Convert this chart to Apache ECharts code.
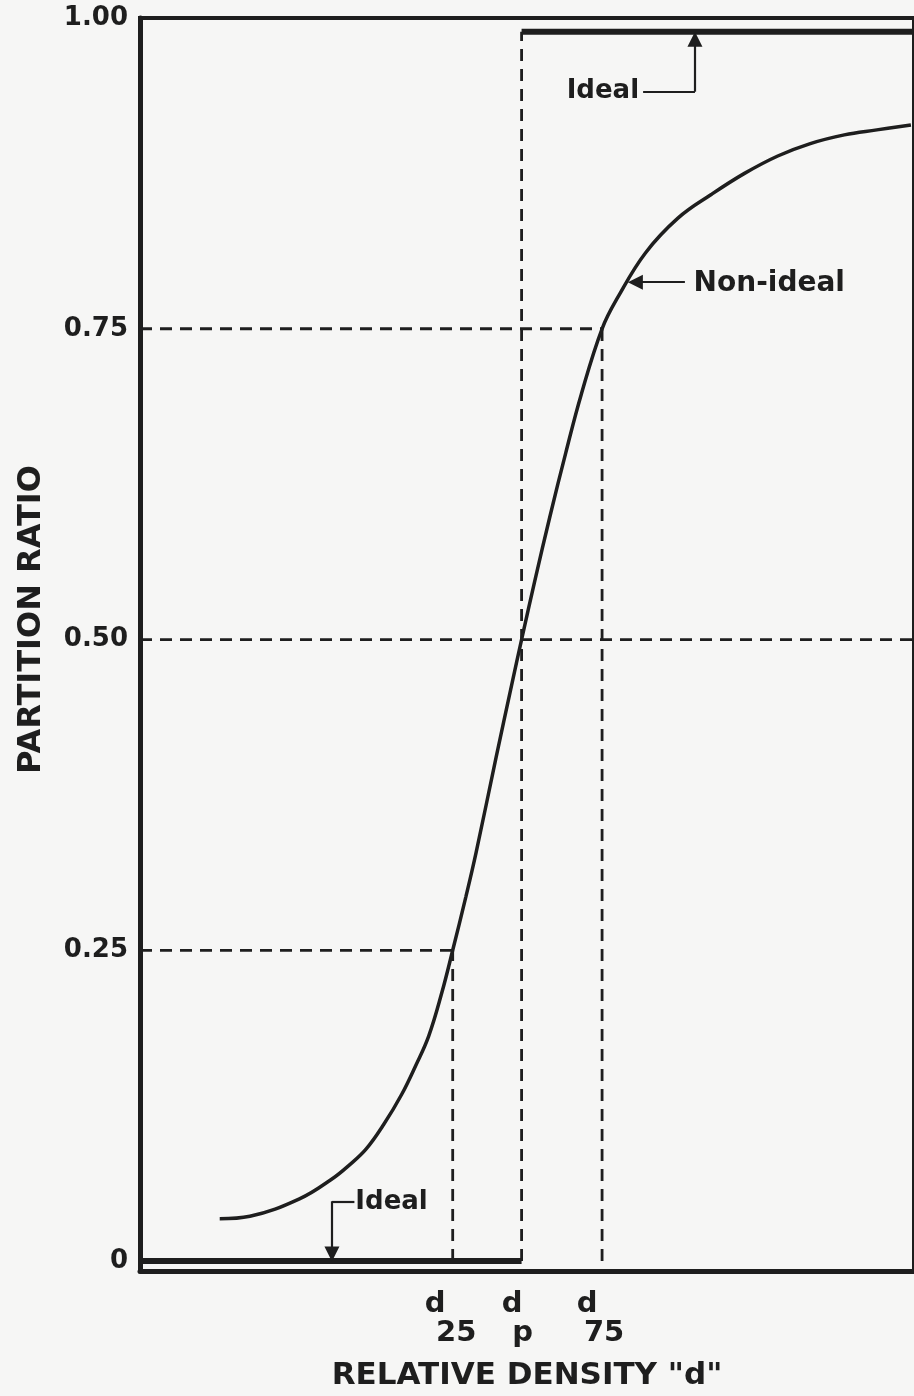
<!DOCTYPE html>
<html>
<head>
<meta charset="utf-8">
<script src="https://cdn.jsdelivr.net/npm/echarts@6/dist/echarts.min.js"></script>
<style>
  html, body { margin: 0; padding: 0; background: #f6f6f5; }
  #chart { width: 914px; height: 1396px; }
</style>
</head>
<body>
<div id="chart"></div>
<script>
// ---- data ----
var yTickValues = [0, 0.25, 0.5, 0.75, 1];
var yTickLabels = ['0', '0.25', '0.50', '0.75', '1.00'];

// characteristic densities (relative x units)
var d25 = 40.4, dp = 49.3, d75 = 59.7;
var xMarkValues = [d25, dp, d75];
var xMarkMain = ['d', 'd', 'd'];
var xMarkSub = ['25', 'p', '75'];

// non-ideal partition curve: [relative density, partition ratio]
var nonIdeal = [
  [10.3, 0.034], [14.2, 0.036], [20.6, 0.050], [24.8, 0.066], [27.0, 0.077],
  [29.2, 0.090], [31.5, 0.110], [33.8, 0.134], [35.6, 0.157], [37.3, 0.181],
  [39.0, 0.216], [40.4, 0.250], [42.1, 0.293], [43.4, 0.328], [46.0, 0.405],
  [48.0, 0.463], [49.3, 0.500], [51.0, 0.547], [53.0, 0.600], [55.0, 0.650],
  [57.0, 0.697], [59.7, 0.750], [61.8, 0.776], [65.3, 0.811], [69.5, 0.839],
  [73.8, 0.858], [78.1, 0.875], [82.4, 0.889], [86.6, 0.899], [91.0, 0.906],
  [95.2, 0.910], [99.6, 0.914]
];

// ideal partition (step at dp), drawn just inside the frame
var idealLow = [[0, 0], [dp, 0]];
var idealHigh = [[dp, 0.989], [100, 0.989]];

// annotation texts and pointer lines
var annoTexts = [
  { name: 'Ideal', value: [59.8, 0.9407], size: 26 },
  { name: 'Ideal', value: [32.5, 0.0473], size: 26 },
  { name: 'Non-ideal', value: [81.3, 0.7859], size: 28 }
];
var annoPlainLines = [
  [[65.0, 0.9407], [71.7, 0.9407]],
  [[27.7, 0.0481], [24.8, 0.0481]]
];
var annoArrowLines = [
  [[71.7, 0.9407], [71.7, 0.9830]],
  [[24.8, 0.0481], [24.8, 0.0056]],
  [[70.4, 0.7875], [64.0, 0.7875]]
];

var ink = '#1e1e1e';
var fontFam = '"DejaVu Sans", "Liberation Sans", sans-serif';

function dashSeries(data) {
  return {
    type: 'line', data: data, symbol: 'none', silent: true, z: 2,
    lineStyle: { color: ink, width: 2.8, type: [12, 8] }
  };
}

function richStyle(padRight, padLeft) {
  return {
    fontFamily: fontFam, fontWeight: 'bold', fontSize: 29, color: ink,
    lineHeight: 29, padding: [0, padRight, 0, padLeft]
  };
}

var chart = echarts.init(document.getElementById('chart'), null, { renderer: 'canvas' });

var option = {
  backgroundColor: '#f6f6f5',
  animation: false,
  grid: {
    left: 140, right: -3, top: 18, bottom: 121,
    show: true, borderColor: ink, borderWidth: 4, backgroundColor: 'transparent'
  },
  xAxis: {
    type: 'value', min: 0, max: 100,
    splitLine: { show: false },
    axisLine: { show: true, onZero: false, lineStyle: { color: ink, width: 5 } },
    axisTick: { show: false },
    axisLabel: {
      show: true,
      customValues: xMarkValues,
      margin: 19,
      verticalAlign: 'top',
      formatter: function (v) {
        var i = xMarkValues.indexOf(v);
        if (i < 0) return '';
        var k = ['a', 'b', 'c'][i];
        return '{' + k + 'm|' + xMarkMain[i] + '}\n{' + k + 's|' + xMarkSub[i] + '}';
      },
      rich: {
        am: richStyle(35, 0),
        as: richStyle(0, 7),
        bm: richStyle(19, 0),
        bs: richStyle(0, 2),
        cm: richStyle(30, 0),
        cs: richStyle(0, 4)
      }
    },
    name: 'RELATIVE DENSITY "d"',
    nameLocation: 'middle',
    nameGap: 89,
    nameTextStyle: { fontFamily: fontFam, fontWeight: 'bold', fontSize: 31, color: ink }
  },
  yAxis: {
    type: 'value', min: -0.008, max: 1,
    splitLine: { show: false },
    axisLine: { show: true, onZero: false, lineStyle: { color: ink, width: 5 } },
    axisTick: { show: false },
    axisLabel: {
      customValues: yTickValues,
      margin: 12,
      fontFamily: fontFam, fontWeight: 'bold', fontSize: 26, color: ink,
      formatter: function (v) {
        var i = yTickValues.indexOf(v);
        return i < 0 ? '' : yTickLabels[i];
      }
    },
    name: 'PARTITION RATIO',
    nameLocation: 'middle',
    nameGap: 92,
    nameTextStyle: { fontFamily: fontFam, fontWeight: 'bold', fontSize: 32, color: ink, padding: [0, 0, 0, 50] }
  },
  series: [
    dashSeries([[0, 0.25], [d25, 0.25]]),
    dashSeries([[0, 0.5], [100, 0.5]]),
    dashSeries([[0, 0.75], [d75, 0.75]]),
    dashSeries([[d25, 0], [d25, 0.25]]),
    dashSeries([[dp, 0], [dp, 0.989]]),
    dashSeries([[d75, 0], [d75, 0.75]]),
    {
      name: 'Ideal (low)', type: 'line', data: idealLow, symbol: 'none', z: 4,
      lineStyle: { color: ink, width: 6 }
    },
    {
      name: 'Ideal (high)', type: 'line', data: idealHigh, symbol: 'none', z: 4,
      lineStyle: { color: ink, width: 6 }
    },
    {
      name: 'Non-ideal', type: 'line', data: nonIdeal, symbol: 'none',
      smooth: 0.4, z: 5,
      lineStyle: { color: ink, width: 3.5 }
    },
    {
      type: 'lines', coordinateSystem: 'cartesian2d', silent: true, z: 6,
      symbol: 'none',
      lineStyle: { color: ink, width: 2.2, opacity: 1, curveness: 0 },
      data: annoPlainLines.map(function (c) { return { coords: c }; })
    },
    {
      type: 'lines', coordinateSystem: 'cartesian2d', silent: true, z: 6,
      symbol: ['none', 'triangle'], symbolSize: [10, 15],
      lineStyle: { color: ink, width: 2.2, opacity: 1, curveness: 0 },
      data: annoArrowLines.map(function (c) { return { coords: c }; })
    },
    {
      type: 'scatter', symbolSize: 0, silent: true, z: 7,
      itemStyle: { opacity: 1, color: ink },
      data: annoTexts.map(function (a) {
        return {
          name: a.name, value: a.value,
          label: {
            show: true, position: 'inside', formatter: a.name,
            fontFamily: fontFam, fontWeight: 'bold', fontSize: a.size, color: ink
          }
        };
      })
    }
  ]
};
chart.setOption(option);
</script>
</body>
</html>
